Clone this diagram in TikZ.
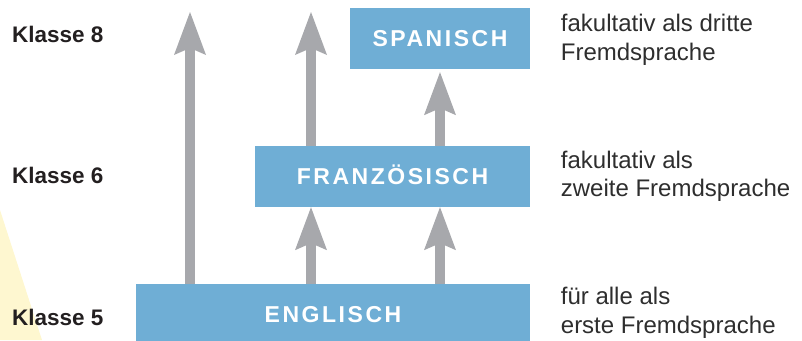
\documentclass[tikz,border=0pt]{standalone}
\usepackage{fontspec}
\setmainfont{Liberation Sans}
\newfontfamily\boxfont[LetterSpace=11]{Liberation Sans}
\usetikzlibrary{arrows.meta}
\definecolor{langblue}{HTML}{6FAED5}
\definecolor{arrgray}{HTML}{A7A8AC}
\definecolor{softyellow}{HTML}{FEF7D0}
\definecolor{darktext}{HTML}{231F20}
\definecolor{notetext}{HTML}{2E2E2E}
\tikzset{
  langbox/.style={fill=langblue, draw=none, inner sep=0pt, text=white,
    font=\boxfont\bfseries\fontsize{23bp}{27bp}\selectfont,
    text height=16.5bp, text depth=0pt, minimum height=61bp},
  uparrow/.style={draw=arrgray, line width=10bp,
    -{Stealth[length=43bp, width=32bp, inset=7bp, line width=0pt]}},
  klasse/.style={inner sep=0pt, anchor=base west, text=darktext,
    font=\bfseries\fontsize{22.5bp}{27bp}\selectfont},
  note/.style={inner sep=0pt, anchor=base west, align=left, text=notetext,
    font=\fontsize{24bp}{28.3bp}\selectfont}
}
\begin{document}
\begin{tikzpicture}[x=1bp,y=-1bp]
\useasboundingbox (0,0) rectangle (802,340);
\fill[softyellow] (0,210) -- (42,340) -- (0,340) -- cycle;

\node[langbox, minimum width=394bp] (eng) at (333,314.5) {ENGLISCH};
\node[langbox, minimum width=275bp] (fra) at (392.5,176.5) {FRANZÖSISCH};
\node[langbox, minimum width=180bp] (spa) at (440,38.5) {SPANISCH};

\coordinate (t1) at (190,12);
\coordinate (t2) at (311,12);
\draw[uparrow] (eng.north -| t1) -- (t1);
\draw[uparrow] (fra.north -| t2) -- (t2);
\draw[uparrow, shorten >=3bp] (fra.north -| spa.south) -- (spa.south);
\draw[uparrow] (eng.north -| t2) -- (fra.south -| t2);
\draw[uparrow] (eng.north -| spa.south) -- (fra.south -| spa.south);

\node[klasse] (k8) at (12,42.3) {Klasse 8};
\node[klasse] (k6) at (12,183.3) {Klasse 6};
\node[klasse] (k5) at (12,325) {Klasse 5};

\node[note] (n8) at (560.7,60) {fakultativ als dritte\\Fremdsprache};
\node[note] (n6) at (560.7,196.7) {fakultativ als\\zweite Fremdsprache};
\node[note] (n5) at (560.7,333) {für alle als\\erste Fremdsprache};
\end{tikzpicture}
\end{document}
